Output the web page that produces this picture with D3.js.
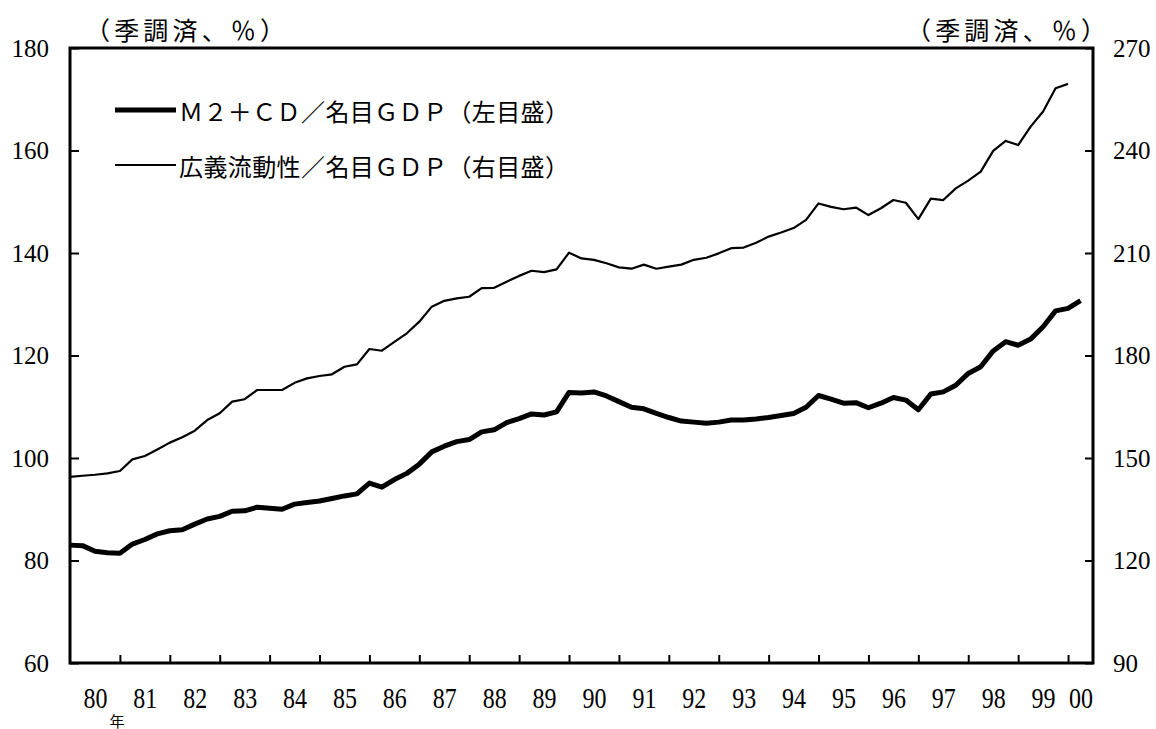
<!DOCTYPE html>
<html>
<head>
<meta charset="utf-8">
<script src="https://cdn.jsdelivr.net/npm/d3@7"></script>
<style>
  body { margin: 0; background: #fff; }
  svg { display: block; }
</style>
</head>
<body>
<script>

// quarterly data, 1980Q1 ->
var startYear = 1980;

// M2+CD / nominal GDP (left axis)
var m2 = [
  83.0, 82.9, 81.8, 81.5,
  81.4, 83.2, 84.1, 85.2,
  85.8, 86.0, 87.1, 88.1,
  88.6, 89.6, 89.7, 90.4,
  90.2, 90.0, 91.0, 91.3,
  91.6, 92.1, 92.6, 93.0,
  95.1, 94.3, 95.8, 97.0,
  98.8, 101.2, 102.3, 103.2,
  103.6, 105.1, 105.5, 106.9,
  107.7, 108.6, 108.4, 109.0,
  112.8, 112.7, 112.9, 112.1,
  111.0, 109.9, 109.6, 108.7,
  107.9, 107.2, 107.0, 106.8,
  107.0, 107.4, 107.4, 107.6,
  107.9, 108.3, 108.7, 109.9,
  112.2, 111.5, 110.7, 110.8,
  109.8, 110.7, 111.8, 111.3,
  109.4, 112.5, 112.9, 114.2,
  116.5, 117.8, 120.9, 122.7,
  122.0, 123.2, 125.6, 128.7,
  129.2, 130.7
];

// broad liquidity / nominal GDP (right axis)
var broad = [
  144.5, 144.8, 145.1, 145.5,
  146.2, 149.6, 150.6, 152.5,
  154.5, 156.1, 158.0, 161.1,
  163.1, 166.5, 167.2, 169.9,
  169.9, 169.9, 172.0, 173.3,
  174.0, 174.5, 176.7, 177.4,
  181.9, 181.4, 184.0, 186.5,
  189.9, 194.3, 196.0, 196.7,
  197.2, 199.7, 199.8, 201.6,
  203.3, 204.8, 204.4, 205.2,
  210.1, 208.4, 208.0, 207.0,
  205.8, 205.4, 206.6, 205.4,
  206.0, 206.6, 208.0, 208.6,
  209.9, 211.4, 211.6, 213.0,
  214.8, 216.0, 217.3, 219.7,
  224.5, 223.5, 222.8, 223.3,
  221.1, 223.1, 225.5, 224.7,
  219.9, 225.9, 225.5, 228.9,
  231.2, 233.8, 239.9, 242.8,
  241.6, 247.0, 251.4, 258.2,
  259.5
];

var leftTicks = [60, 80, 100, 120, 140, 160, 180];
var rightTicks = [90, 120, 150, 180, 210, 240, 270];
var yearTicks = d3.range(1981, 2001);
var yearLabels = ["80","81","82","83","84","85","86","87","88","89","90",
                  "91","92","93","94","95","96","97","98","99","00"];

var unitText = "（季調済、％）";
var legendNames = ["Ｍ２＋ＣＤ／名目ＧＤＰ（左目盛）", "広義流動性／名目ＧＤＰ（右目盛）"];

var W = 1156, H = 729;
var L = 70, R = 1093, T = 48, B = 663;
var numFont = "'Liberation Serif', 'DejaVu Serif', serif";
var jpFont = "'Noto Sans CJK JP', sans-serif";

var svg = d3.select('body').append('svg')
  .attr('width', W)
  .attr('height', H);

var x = d3.scaleLinear().domain([1980, 2000.5]).range([L, R]);
var yL = d3.scaleLinear().domain([60, 180]).range([B, T]);
var yR = d3.scaleLinear().domain([90, 270]).range([B, T]);

function tq(i){ return startYear + i / 4; }

// axes
var gl = svg.append('g').attr('transform', 'translate(' + L + ',0)')
  .call(d3.axisLeft(yL).tickValues(leftTicks).tickSize(-9).tickPadding(21));
var gr = svg.append('g').attr('transform', 'translate(' + R + ',0)')
  .call(d3.axisRight(yR).tickValues(rightTicks).tickSize(-8).tickPadding(20));
var gb = svg.append('g').attr('transform', 'translate(0,' + B + ')')
  .call(d3.axisBottom(x).tickValues(yearTicks).tickSize(-8).tickFormat(''));

[gl, gr, gb].forEach(function(g){
  g.select('.domain').remove();
  g.selectAll('line').attr('stroke', '#000').attr('stroke-width', 2);
  g.selectAll('text').attr('fill', '#000').style('font-family', numFont).style('font-size', '25px');
});

// year labels in the middle of each year
var mids = yearLabels.map(function(d, i){ return i < 20 ? 1980.5 + i : 2000.25; });
var gx = svg.append('g').attr('transform', 'translate(0,' + B + ')')
  .call(d3.axisBottom(x).tickValues(mids).tickSize(0)
    .tickFormat(function(d, i){ return yearLabels[i]; }));
gx.select('.domain').remove();
gx.selectAll('text')
  .attr('fill', '#000')
  .attr('y', 18.8)
  .attr('transform', 'scale(1,1.25)')
  .style('font-family', numFont)
  .style('font-size', '24px');

// frame
svg.append('rect')
  .attr('x', L).attr('y', T)
  .attr('width', R - L).attr('height', B - T)
  .attr('fill', 'none')
  .attr('stroke', '#000')
  .attr('stroke-width', 3);

// lines
var lineL = d3.line().x(function(d, i){ return x(tq(i)); }).y(function(d){ return yL(d); });
var lineR = d3.line().x(function(d, i){ return x(tq(i)); }).y(function(d){ return yR(d); });

svg.append('path').datum(broad)
  .attr('d', lineR)
  .attr('fill', 'none').attr('stroke', '#000')
  .attr('stroke-width', 2.2).attr('stroke-linejoin', 'round');

svg.append('path').datum(m2)
  .attr('d', lineL)
  .attr('fill', 'none').attr('stroke', '#000')
  .attr('stroke-width', 5).attr('stroke-linejoin', 'round');

// unit labels (full-width parens carry side bearing, so start a bit left)
[85, 906].forEach(function(ux){
  svg.append('text').attr('x', ux).attr('y', 29)
    .attr('dominant-baseline', 'central')
    .attr('textLength', 200).attr('lengthAdjust', 'spacing')
    .style('font-family', jpFont).style('font-size', '25px')
    .text(unitText);
});

// legend
var legY = [110, 165];
var legW = [5, 2.2];
legendNames.forEach(function(name, i){
  svg.append('line')
    .attr('x1', 115).attr('x2', 176)
    .attr('y1', legY[i]).attr('y2', legY[i])
    .attr('stroke', '#000').attr('stroke-width', legW[i]);
  svg.append('text')
    .attr('x', 179).attr('y', legY[i])
    .attr('dominant-baseline', 'central')
    .attr('textLength', 390).attr('lengthAdjust', 'spacing')
    .style('font-family', jpFont).style('font-size', '24px')
    .text(name);
});

// the "year" mark under 80
svg.append('text').attr('x', 117).attr('y', 720)
  .attr('text-anchor', 'middle').attr('dominant-baseline', 'central')
  .style('font-family', jpFont).style('font-size', '15px')
  .text('年');

</script>
</body>
</html>
